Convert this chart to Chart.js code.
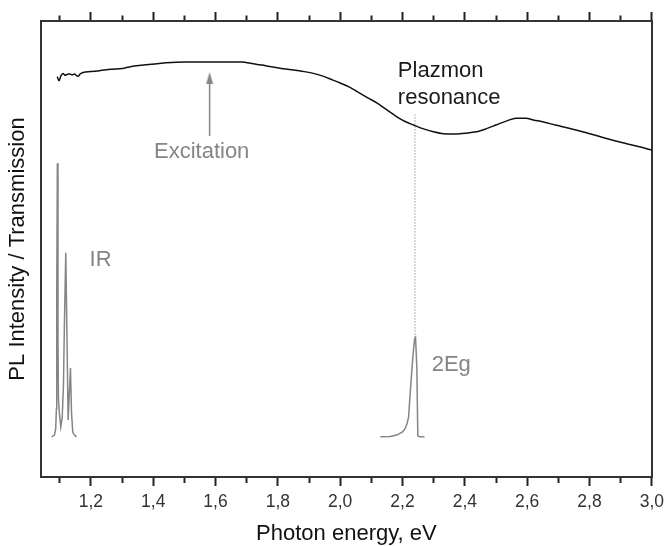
<!DOCTYPE html>
<html>
<head>
<meta charset="utf-8">
<script src="https://cdn.jsdelivr.net/npm/chart.js@4/dist/chart.umd.min.js"></script>
<style>
  body { margin: 0; background: #fff; }
  canvas { display: block; }
</style>
</head>
<body>
<canvas id="pl-chart" width="670" height="546"></canvas>
<script>
// Transmission spectrum (black curve)
const transEnergy = [1.092, 1.098, 1.104, 1.111, 1.117, 1.122, 1.127, 1.132, 1.140, 1.148, 1.154, 1.159, 1.166, 1.175,
  1.200, 1.228, 1.265, 1.302, 1.334, 1.375, 1.419, 1.460, 1.504, 1.600, 1.684, 1.716, 1.760, 1.811, 1.885, 1.920,
  1.949, 1.975, 2.000, 2.030, 2.055, 2.090, 2.119, 2.150, 2.182, 2.210, 2.235, 2.265, 2.299, 2.330, 2.363, 2.400,
  2.437, 2.470, 2.500, 2.535, 2.564, 2.596, 2.620, 2.649, 2.690, 2.734, 2.790, 2.840, 2.900, 2.950, 3.000];
const transValue = [0.878, 0.869, 0.880, 0.885, 0.881, 0.882, 0.884, 0.884, 0.882, 0.884, 0.880, 0.879, 0.884, 0.887,
  0.889, 0.891, 0.894, 0.896, 0.901, 0.904, 0.907, 0.909, 0.910, 0.910, 0.910, 0.907, 0.902, 0.896, 0.889, 0.884,
  0.878, 0.871, 0.864, 0.855, 0.845, 0.831, 0.820, 0.805, 0.790, 0.779, 0.772, 0.764, 0.757, 0.753, 0.752, 0.754,
  0.757, 0.764, 0.772, 0.781, 0.787, 0.787, 0.783, 0.779, 0.772, 0.765, 0.755, 0.745, 0.734, 0.726, 0.717];

// IR photoluminescence peaks
const irEnergy = [1.074, 1.083, 1.087, 1.0895, 1.0905, 1.0925, 1.0945, 1.096, 1.099, 1.1035, 1.108, 1.112, 1.115,
  1.1195, 1.1235, 1.127, 1.130, 1.1345, 1.138, 1.142, 1.147, 1.154];
const irValue = [0.088, 0.092, 0.105, 0.150, 0.400, 0.688, 0.300, 0.170, 0.140, 0.110, 0.130, 0.200, 0.330,
  0.492, 0.300, 0.125, 0.170, 0.239, 0.140, 0.098, 0.092, 0.088];

// second harmonic (2Eg) peak
const egEnergy = [2.129, 2.160, 2.182, 2.200, 2.209, 2.215, 2.2195, 2.2246, 2.2290, 2.2332, 2.2386, 2.2418, 2.2459,
  2.2491, 2.2555, 2.2704];
const egValue = [0.088, 0.089, 0.092, 0.099, 0.107, 0.118, 0.132, 0.184, 0.225, 0.264, 0.302, 0.306, 0.242,
  0.090, 0.088, 0.088];

// plasmon marker line and excitation arrow
const plasmonEnergy = [2.240, 2.240];
const plasmonValue = [0.306, 0.798];
const arrowEnergy = [1.581, 1.581];
const arrowValue = [0.748, 0.868];
const arrowHead = [{ x: 1.581, y: 0.875 }];

const xMin = 1.04;
const xMax = 3.0;

const FONT = '"Liberation Sans", Arial, sans-serif';
const GRAY = '#858585';

const pts = (xs, ys) => xs.map((x, i) => ({ x, y: ys[i] }));

// arrow head image (narrow triangle)
const headImg = document.createElement('canvas');
headImg.width = 8;
headImg.height = 12;
(function () {
  const c = headImg.getContext('2d');
  c.fillStyle = GRAY;
  c.beginPath();
  c.moveTo(4, 0);
  c.lineTo(7.5, 12);
  c.lineTo(0.5, 12);
  c.closePath();
  c.fill();
})();

const notes = [
  { text: 'Excitation', x: 1.5555, y: 0.699, color: GRAY, align: 'center' },
  { text: 'Plazmon', x: 2.185, y: 0.877, color: '#1a1a1a', align: 'left' },
  { text: 'resonance', x: 2.185, y: 0.819, color: '#1a1a1a', align: 'left' },
  { text: 'IR', x: 1.196, y: 0.463, color: GRAY, align: 'left' },
  { text: '2Eg', x: 2.2936, y: 0.233, color: GRAY, align: 'left' }
];

const notesPlugin = {
  id: 'notes',
  afterDatasetsDraw(chart) {
    const { ctx, scales } = chart;
    ctx.save();
    ctx.font = '22px ' + FONT;
    ctx.textBaseline = 'alphabetic';
    notes.forEach(n => {
      ctx.fillStyle = n.color;
      ctx.textAlign = n.align;
      ctx.fillText(n.text, scales.x.getPixelForValue(n.x), scales.y.getPixelForValue(n.y));
    });
    ctx.restore();
  }
};

const isMajor = v => Math.round(v * 10) % 2 === 0;

const border = { display: true, color: '#333', width: 2 };

new Chart(document.getElementById('pl-chart'), {
  type: 'line',
  data: {
    datasets: [
      { data: pts(transEnergy, transValue), borderColor: '#111', borderWidth: 1.5, pointRadius: 0, cubicInterpolationMode: 'monotone' },
      { data: pts(irEnergy, irValue), borderColor: GRAY, borderWidth: 1.5, pointRadius: 0 },
      { data: pts(egEnergy, egValue), borderColor: GRAY, borderWidth: 1.5, pointRadius: 0 },
      { data: pts(plasmonEnergy, plasmonValue), borderColor: '#666', borderWidth: 1, borderDash: [1, 2], pointRadius: 0 },
      { data: pts(arrowEnergy, arrowValue), borderColor: GRAY, borderWidth: 1.5, pointRadius: 0 },
      { data: arrowHead, showLine: false, pointStyle: headImg, pointRadius: 6 }
    ]
  },
  options: {
    responsive: false,
    animation: false,
    layout: { padding: 0 },
    plugins: { legend: { display: false }, tooltip: { enabled: false } },
    scales: {
      x: {
        type: 'linear', position: 'bottom', min: xMin, max: xMax,
        afterFit: s => { s.height = 69; },
        border,
        grid: {
          drawOnChartArea: false, tickLength: 9, tickColor: '#222', tickWidth: 2,
          // minor ticks: short dash starting at the border
          tickBorderDash: c => isMajor(c.tick.value) ? [] : [5, 20]
        },
        ticks: {
          stepSize: 0.1, includeBounds: false, padding: 6, color: '#333',
          font: { family: FONT, size: 17.5 }, maxRotation: 0, autoSkip: false,
          callback: v => isMajor(v) ? v.toFixed(1).replace('.', ',') : ''
        },
        title: {
          display: true, text: 'Photon energy, eV', color: '#111',
          font: { family: FONT, size: 22, lineHeight: 1.1 }, padding: 0
        }
      },
      x2: {
        type: 'linear', position: 'top', min: xMin, max: xMax,
        afterFit: s => { s.height = 21; },
        border,
        grid: {
          drawOnChartArea: false, tickLength: 9, tickColor: '#222', tickWidth: 2,
          // top ticks are drawn from the outer end inward, so skip the outer part
          tickBorderDash: c => isMajor(c.tick.value) ? [] : [0, 3.5, 6, 20]
        },
        ticks: { stepSize: 0.1, includeBounds: false, display: false }
      },
      y: {
        type: 'linear', position: 'left', min: 0, max: 1,
        afterFit: s => { s.width = 41; },
        border,
        grid: { drawOnChartArea: false, drawTicks: false },
        ticks: { display: false },
        title: {
          display: true, text: 'PL Intensity / Transmission', color: '#111',
          font: { family: FONT, size: 22, lineHeight: 1.2 }, padding: { top: 5, bottom: 0 }
        }
      },
      y2: {
        type: 'linear', position: 'right', min: 0, max: 1,
        afterFit: s => { s.width = 13; },
        border,
        grid: { drawOnChartArea: false, drawTicks: false },
        ticks: { display: false }
      }
    }
  },
  plugins: [notesPlugin]
});
</script>
</body>
</html>
